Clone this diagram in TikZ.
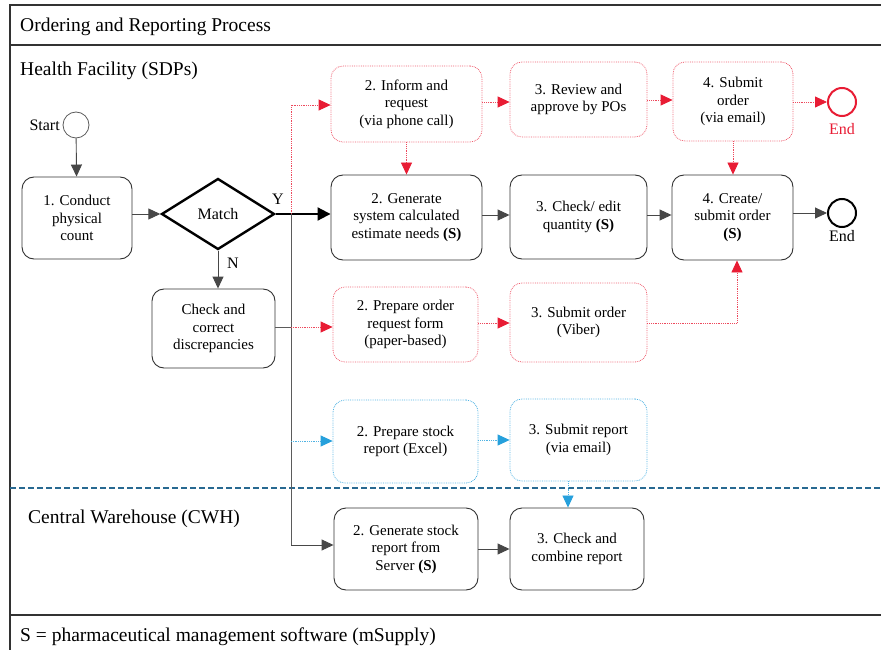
\documentclass[tikz,border=0pt]{standalone}
\usepackage{fontspec}
\setmainfont{Liberation Serif}
\usetikzlibrary{shapes.geometric,arrows.meta}
\definecolor{rd}{RGB}{232,28,52}
\definecolor{bl}{RGB}{38,160,220}
\definecolor{sep}{RGB}{40,105,145}
\definecolor{frm}{RGB}{50,50,50}
\tikzset{
  base/.style={rectangle,rounded corners=12pt,align=center,inner sep=0pt,
    font=\fontsize{15}{17.5}\selectfont},
  bbox/.style={base,draw=frm,line width=0.9pt},
  rbox/.style={base,draw=rd!70,line width=0.8pt,densely dotted},
  bluebox/.style={base,draw=bl!80,line width=0.8pt,densely dotted},
  tip/.style={-{Triangle[length=12pt,width=11pt]}},
  blk/.style={tip,draw=frm!90,line width=0.9pt},
  redc/.style={draw=rd!80,line width=0.8pt,densely dotted,arrows={-{Triangle[length=12pt,width=11pt,fill=rd,color=rd]}}},
  bluec/.style={draw=bl!80,line width=0.8pt,densely dotted,arrows={-{Triangle[length=12pt,width=11pt,fill=bl,color=bl]}}},
  gline/.style={draw=frm!80,line width=0.9pt},
  lbl/.style={inner sep=0pt,font=\fontsize{19.5}{21}\selectfont},
  sml/.style={inner sep=0pt,font=\fontsize{16}{18}\selectfont},
  endc/.style={circle,line width=2pt,minimum size=28pt,inner sep=0pt},
}
\begin{document}
\begin{tikzpicture}[x=1pt,y=-1pt]
\useasboundingbox (0,0) rectangle (881,650);
% frame
\draw[frm,line width=1.5pt] (10,650) -- (10,5) -- (885,5);
\draw[frm,line width=1.2pt] (10,45) -- (885,45);
\draw[frm,line width=1.5pt] (10,615) -- (885,615);
\draw[sep,line width=1.1pt,dash pattern=on 6pt off 3pt] (10,488) -- (885,488);
\node[lbl,anchor=west] (title) at (20,27) {Ordering and Reporting Process};
\node[lbl,anchor=west] (hf) at (20,71) {Health Facility (SDPs)};
\node[lbl,anchor=west] (cwh) at (28,519) {Central Warehouse (CWH)};
\node[lbl,anchor=west] (foot) at (20,637) {S = pharmaceutical management software (mSupply)};
% start
\node[circle,draw=frm!80,line width=0.8pt,minimum size=26pt,inner sep=0pt] (start) at (76,125) {};
\node[sml,anchor=east] (startl) at (start.west) {Start\,};
% nodes
\node[bbox,minimum width=110pt,minimum height=82pt] (b1) at (77,218) {1. Conduct\\physical\\count};
\node[diamond,draw=black,line width=2.4pt,minimum width=113pt,minimum height=71pt,inner sep=0pt,
  font=\fontsize{16}{18}\selectfont] (match) at (218,214) {Match};
\node[bbox,minimum width=123pt,minimum height=79pt] (chk) at (213.5,328.5) {Check and\\correct\\discrepancies};
\node[rbox,minimum width=151pt,minimum height=76pt] (inform) at (406.5,104) {2. Inform and\\request\\(via phone call)};
\node[rbox,minimum width=137pt,minimum height=75pt] (review) at (578.5,99.5) {3. Review and\\approve by POs};
\node[rbox,minimum width=120pt,minimum height=79pt] (submit) at (733,101.5) {4. Submit\\order\\(via email)};
\node[endc,draw=rd] (endr) at (842,102) {};
\node[sml,anchor=north,text=rd] (endrl) at (842,123) {End};
\node[bbox,minimum width=151pt,minimum height=85pt] (gen) at (406.5,217.5) {2. Generate\\system calculated\\estimate needs \textbf{(S)}};
\node[bbox,minimum width=137pt,minimum height=84pt] (edit) at (578.5,217) {3. Check/ edit\\quantity \textbf{(S)}};
\node[bbox,minimum width=121pt,minimum height=85pt] (create) at (732.5,217.5) {4. Create/\\submit order\\\textbf{(S)}};
\node[endc,draw=black] (endb) at (842,213) {};
\node[sml,anchor=north] (endbl) at (842,230) {End};
\node[rbox,minimum width=145pt,minimum height=75pt] (prepord) at (405.5,324.5) {2. Prepare order\\request form\\(paper-based)};
\node[rbox,minimum width=137pt,minimum height=79pt] (viber) at (578.5,322.5) {3. Submit order\\(Viber)};
\node[bluebox,minimum width=145pt,minimum height=83pt] (prepst) at (405.5,441.5) {2. Prepare stock\\report (Excel)};
\node[bluebox,minimum width=137pt,minimum height=82pt] (subrep) at (578.5,440) {3. Submit report\\(via email)};
\node[bbox,minimum width=144pt,minimum height=82pt] (genst) at (406,549) {2. Generate stock\\report from\\Server \textbf{(S)}};
\node[bbox,minimum width=134pt,minimum height=82pt] (comb) at (577,549) {3. Check and\\combine report};
% labels
\node[sml] (ylbl) at (278,199) {Y};
\node[sml] (nlbl) at (233,263) {N};
% junction coordinates
\coordinate (j) at (291,214);
\coordinate (jtop) at (291,105);
\coordinate (jchk) at (291,327);
\coordinate (jbl) at (291,441);
\coordinate (jbot) at (291,545);
\coordinate (vb) at (737,323);
% connectors
\draw[blk] (start) -- (b1);
\draw[blk] (b1.east |- match.west) -- (match.west);
\draw[blk] (match.south) -- (chk.north -| match.south);
\draw[line width=2pt,-{Triangle[length=13pt,width=13pt]}] (match.east) -- (gen.west |- match.east);
\draw[gline] (j) -- (jbot);
\draw[blk] (jbot) -- (genst.west |- jbot);
\draw[redc] (j) -- (jtop) -- (inform.west |- jtop);
\draw[gline] (chk.east |- jchk) -- (jchk);
\draw[redc] (jchk) -- (prepord.west |- jchk);
\draw[bluec] (jbl) -- (prepst.west |- jbl);
\draw[redc] (inform.east |- endr) -- (review.west |- endr);
\draw[redc] (review.east |- 0,100) -- (submit.west |- 0,100);
\draw[redc] (submit.east |- endr) -- (endr.west);
\draw[redc] (inform.south) -- (gen.north -| inform.south);
\draw[redc] (submit.south) -- (create.north -| submit.south);
\draw[blk] (gen.east |- 0,215) -- (edit.west |- 0,215);
\draw[blk] (edit.east |- 0,215) -- (create.west |- 0,215);
\draw[blk] (create.east |- endb) -- (endb.west);
\draw[redc] (prepord.east |- vb) -- (viber.west |- vb);
\draw[redc] (viber.east |- vb) -- (vb) -- (create.south -| vb);
\draw[bluec] (prepst.east |- subrep) -- (subrep.west);
\draw[bluec] (subrep.south -| 568,0) -- (comb.north -| 568,0);
\draw[blk] (genst.east |- comb) -- (comb.west);
\end{tikzpicture}
\end{document}
